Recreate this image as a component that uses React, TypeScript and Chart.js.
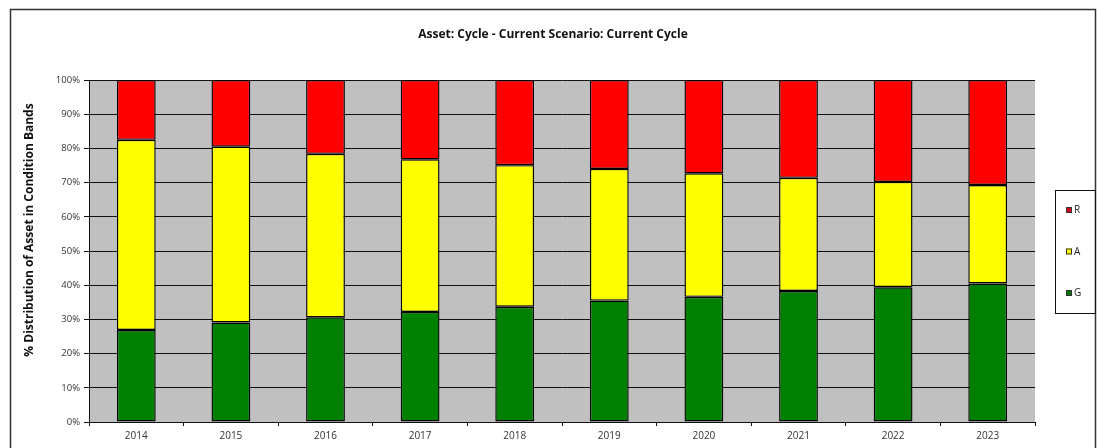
import React, { useEffect, useRef } from "react";
import { Chart, registerables } from "chart.js";

Chart.register(...registerables);

const categories = ["2014", "2015", "2016", "2017", "2018", "2019", "2020", "2021", "2022", "2023"];
const greenValues = [26.9, 29.1, 30.6, 32.2, 33.7, 35.5, 36.6, 38.3, 39.4, 40.5];
const amberValues = [55.6, 51.4, 47.8, 44.6, 41.4, 38.5, 36.1, 33.1, 30.8, 28.8];
const redValues = [17.5, 19.5, 21.6, 23.2, 24.9, 26.0, 27.3, 28.6, 29.8, 30.7];
const yTickValues = [0, 10, 20, 30, 40, 50, 60, 70, 80, 90, 100];
const titleText = "Asset: Cycle - Current Scenario: Current Cycle";
const yTitleText = "% Distribution of Asset in Condition Bands";
const legendItems = [
  { label: "R", color: "#D00018" },
  { label: "A", color: "#FFFF00" },
  { label: "G", color: "#007000" },
];

const FONT = "'Open Sans', 'Liberation Sans', sans-serif";

const decorPlugin = {
  id: "decor",
  beforeDraw(chart: any) {
    const { ctx, chartArea } = chart;
    ctx.save();
    ctx.fillStyle = "#ffffff";
    ctx.fillRect(0, 0, chart.width, chart.height);
    ctx.fillStyle = "#C0C0C0";
    ctx.fillRect(chartArea.left, chartArea.top, chartArea.right - chartArea.left, chartArea.bottom - chartArea.top);
    ctx.restore();
  },
  afterDraw(chart: any) {
    const { ctx } = chart;
    ctx.save();
    // outer frame
    ctx.strokeStyle = "#333333";
    ctx.lineWidth = 1.5;
    ctx.beginPath();
    ctx.moveTo(10.5, chart.height);
    ctx.lineTo(10.5, 9.5);
    ctx.lineTo(1095.5, 9.5);
    ctx.lineTo(1095.5, chart.height);
    ctx.stroke();
    // title
    ctx.fillStyle = "#111111";
    ctx.font = "bold 12px " + FONT;
    ctx.textAlign = "center";
    ctx.textBaseline = "middle";
    ctx.fillText(titleText, 553, 35);
    // y axis title
    ctx.save();
    ctx.translate(30, 230);
    ctx.rotate(-Math.PI / 2);
    ctx.font = "bold 12px " + FONT;
    ctx.fillText(yTitleText, 0, 0);
    ctx.restore();
    // legend
    ctx.lineWidth = 1;
    ctx.strokeStyle = "#111111";
    ctx.strokeRect(1055.5, 190.5, 40, 123);
    ctx.font = "10px " + FONT;
    ctx.textAlign = "left";
    legendItems.forEach((it, i) => {
      const y = 210 + i * 41.5;
      ctx.fillStyle = it.color;
      ctx.fillRect(1066, y - 3, 6, 6);
      ctx.strokeStyle = "#333";
      ctx.strokeRect(1066.5, y - 2.5, 5, 5);
      ctx.fillStyle = "#222";
      ctx.fillText(it.label, 1074, y + 0.5);
    });
    ctx.restore();
  },
};

export default function App() {
  const canvasRef = useRef<HTMLCanvasElement>(null);

  useEffect(() => {
    if (!canvasRef.current) return;
    const mk = (label: string, data: number[], color: string) => ({
      label,
      data,
      backgroundColor: color,
      borderColor: "#000000",
      borderWidth: 1.4,
      borderSkipped: false,
      categoryPercentage: 1,
      barPercentage: 0.41,
    });
    const chart = new Chart(canvasRef.current, {
      type: "bar",
      data: {
        labels: categories,
        datasets: [
          mk("G", greenValues, "#008000"),
          mk("A", amberValues, "#FFFF00"),
          mk("R", redValues, "#FF0000"),
        ],
      },
      plugins: [decorPlugin],
      options: {
        animation: false,
        responsive: false,
        maintainAspectRatio: false,
        layout: { padding: { left: 20, top: 80, right: 62, bottom: 0 } },
        plugins: {
          legend: { display: false },
          title: { display: false },
          tooltip: { enabled: false },
        },
        scales: {
          x: {
            stacked: true,
            afterFit: (s: any) => { s.height = 26; },
            grid: { display: true, drawOnChartArea: false, drawTicks: true, tickLength: 4, offset: true, color: "#111" },
            border: { display: true, color: "#111", width: 1 },
            ticks: { color: "#333", font: { size: 10, family: FONT }, padding: 4, maxRotation: 0 },
          },
          y: {
            stacked: true,
            min: 0,
            max: 100,
            afterFit: (s: any) => { s.width = 69; },
            afterBuildTicks: (s: any) => { s.ticks = yTickValues.map((v) => ({ value: v })); },
            grid: { color: "#111", lineWidth: 1, tickLength: 5, drawTicks: true },
            border: { display: true, color: "#111", width: 1 },
            ticks: {
              color: "#333",
              font: { size: 9.5, family: FONT },
              padding: 4,
              callback: (v: any) => v + "%",
            },
          },
        },
      },
    } as any);
    return () => chart.destroy();
  }, []);

  return (
    <div style={{ position: "fixed", left: 0, top: 0, width: 1097, height: 448, background: "#fff" }}>
      <canvas ref={canvasRef} width={1097} height={448} style={{ width: 1097, height: 448, display: "block" }} />
    </div>
  );
}
